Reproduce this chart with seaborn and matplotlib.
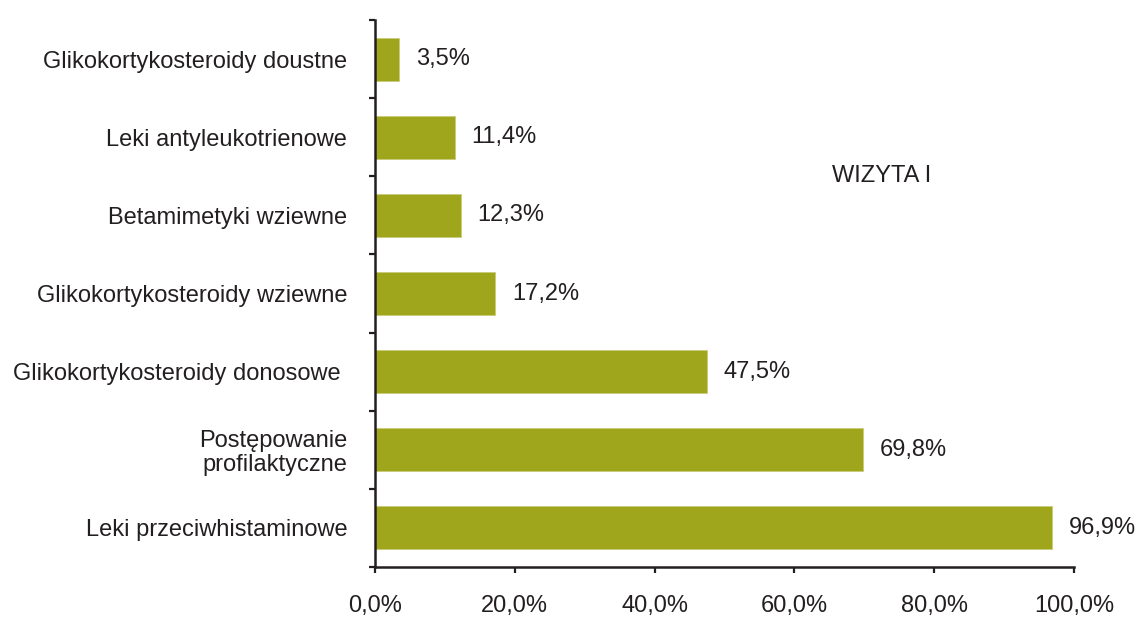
import matplotlib
matplotlib.use("Agg")
import matplotlib.pyplot as plt
import seaborn as sns
import pandas as pd
from matplotlib.ticker import FixedLocator, FuncFormatter

categories = [
    "Glikokortykosteroidy doustne",
    "Leki antyleukotrienowe",
    "Betamimetyki wziewne",
    "Glikokortykosteroidy wziewne",
    "Glikokortykosteroidy donosowe ",
    "Postępowanie\nprofilaktyczne",
    "Leki przeciwhistaminowe",
]
values = [3.5, 11.4, 12.3, 17.2, 47.5, 69.8, 96.9]
x_ticks = [0, 20, 40, 60, 80, 100]
annotation = "WIZYTA I"

sns.set_theme(style="white")
plt.rcParams["font.family"] = ["Liberation Sans", "DejaVu Sans"]
TXT = "#231F20"
BAR = "#A0A61C"

df = pd.DataFrame({"cat": categories, "val": values})

fig = plt.figure(figsize=(11.43, 6.17), dpi=100)
ax = fig.add_axes([0.328, 0.081, 0.9396 - 0.328, 0.9676 - 0.081])

sns.barplot(data=df, x="val", y="cat", order=categories, color=BAR,
            saturation=1, width=0.55, orient="h", ax=ax,
            edgecolor="#C9CC7A", linewidth=0.6)

ax.set_xlim(0, 100)
ax.set_ylim(len(categories) - 0.5, -0.5)
ax.set_xlabel("")
ax.set_ylabel("")

ax.xaxis.set_major_locator(FixedLocator(x_ticks))
ax.xaxis.set_major_formatter(FuncFormatter(lambda v, p: f"{v:.1f}%".replace(".", ",")))
ax.tick_params(axis="x", which="major", direction="out", length=4, width=1.6,
               color=TXT, labelsize=17, labelcolor=TXT, pad=16, bottom=True)

ax.yaxis.set_minor_locator(FixedLocator([i - 0.5 for i in range(len(categories) + 1)]))
ax.tick_params(axis="y", which="major", length=0, labelsize=17, labelcolor=TXT, pad=20, left=True)
ax.tick_params(axis="y", which="minor", direction="out", length=4.5, width=1.6, color=TXT, left=True)
for lab in ax.get_yticklabels():
    lab.set_linespacing(1.1)

for side in ["top", "right"]:
    ax.spines[side].set_visible(False)
for side in ["left", "bottom"]:
    ax.spines[side].set_visible(True)
    ax.spines[side].set_color(TXT)
    ax.spines[side].set_linewidth(1.8)

labels = [f"{v:.1f}%".replace(".", ",") for v in values]
ax.bar_label(ax.containers[0], labels=labels, padding=12, fontsize=17, color=TXT)

ax.text(72.5, 1.5, annotation, fontsize=17, color=TXT, ha="center", va="center")

fig.savefig("out.png", dpi=100, facecolor="white")
